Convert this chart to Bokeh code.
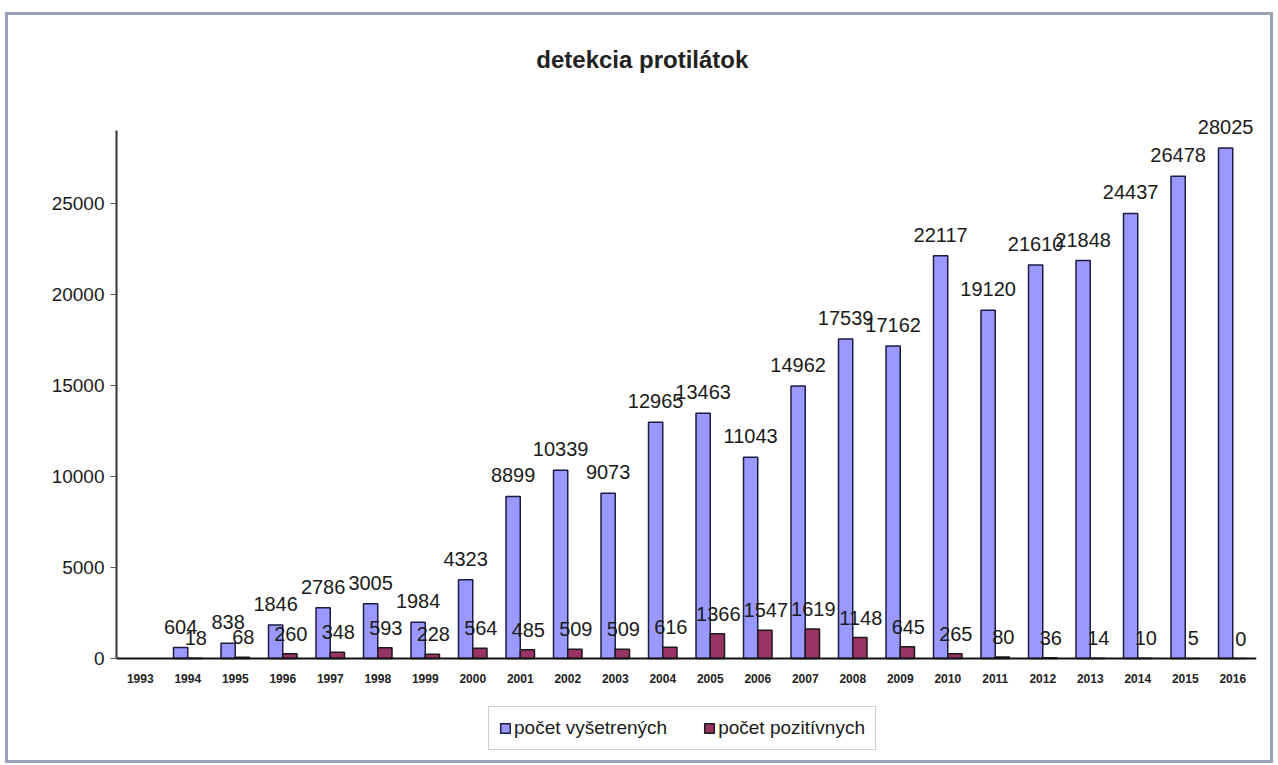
from bokeh.plotting import figure
from bokeh.models import (ColumnDataSource, Legend, LegendItem, Range1d, FactorRange,
                          LabelSet, Label, FixedTicker)
from bokeh.transform import dodge
from bokeh.embed import file_html
from bokeh.resources import INLINE
from bokeh.core.properties import value

# ---- data ----
all_years = [str(y) for y in range(1993, 2017)]
years = [str(y) for y in range(1994, 2017)]
examined = [604, 838, 1846, 2786, 3005, 1984, 4323, 8899, 10339, 9073, 12965, 13463,
            11043, 14962, 17539, 17162, 22117, 19120, 21610, 21848, 24437, 26478, 28025]
positive = [18, 68, 260, 348, 593, 228, 564, 485, 509, 509, 616, 1366,
            1547, 1619, 1148, 645, 265, 80, 36, 14, 10, 5, 0]
y_ticks = [0, 5000, 10000, 15000, 20000, 25000]
title_text = "detekcia protilátok"
series_names = ["počet vyšetrených", "počet pozitívnych"]

FONT = "Liberation Sans"

src = ColumnDataSource(dict(
    year=years,
    examined=examined,
    positive=positive,
    examined_lbl=[str(v) for v in examined],
    positive_lbl=[str(v) for v in positive],
))

# the frame spans the full height; the y axis line is bounded to 0..29000
p = figure(
    x_range=FactorRange(*all_years, range_padding=0),
    y_range=Range1d(-5600, 35304),
    width=1262, height=745,
    output_backend="svg", toolbar_location=None,
    min_border_left=108, min_border_right=14,
    min_border_top=0, min_border_bottom=0,
    title=None,
)
p.styles = {"outline": "3px solid #95a2b6",
            "margin-top": "15px", "margin-left": "8px"}

p.outline_line_color = None
p.xgrid.grid_line_color = None
p.ygrid.grid_line_color = None

r1 = p.vbar(x=dodge("year", -0.15, range=p.x_range), top="examined", width=0.3,
            source=src, fill_color="#9999ff", line_color="#1c1c40", line_width=1.5)
r2 = p.vbar(x=dodge("year", 0.15, range=p.x_range), top="positive", width=0.3,
            source=src, fill_color="#993366", line_color="#1a1a1a", line_width=1.5)

lbl1 = LabelSet(x=dodge("year", -0.15, range=p.x_range), y="examined", text="examined_lbl",
                source=src, text_align="center", text_baseline="alphabetic", y_offset=14,
                text_font=value(FONT), text_font_size=value("20px"), text_color="#1a1a1a")
lbl2 = LabelSet(x=dodge("year", 0.17, range=p.x_range), y="positive", text="positive_lbl",
                source=src, text_align="center", text_baseline="alphabetic", y_offset=13,
                text_font=value(FONT), text_font_size=value("20px"), text_color="#1a1a1a")
p.add_layout(lbl1)
p.add_layout(lbl2)

# chart title
p.add_layout(Label(x=11.07, y=32890, text=title_text, text_align="center",
                   text_baseline="middle", text_font=FONT, text_font_size="24px",
                   text_font_style="bold", text_color="#222222"))

# axes
p.yaxis.ticker = FixedTicker(ticks=y_ticks)
p.yaxis.bounds = (0, 29000)
p.yaxis.major_label_text_font = FONT
p.yaxis.major_label_text_font_size = "19px"
p.yaxis.major_label_text_color = "#1a1a1a"
p.yaxis.major_tick_in = 0
p.yaxis.major_tick_out = 6
p.yaxis.minor_tick_line_color = None
p.yaxis.major_tick_line_color = "#555555"
p.yaxis.axis_line_color = "#333333"
p.yaxis.axis_line_width = 2
p.yaxis.major_label_standoff = 6

p.xaxis.fixed_location = 0
p.xaxis.major_label_text_font = FONT
p.xaxis.major_label_text_font_size = "12px"
p.xaxis.major_label_text_font_style = "bold"
p.xaxis.major_label_text_color = "#222222"
p.xaxis.major_tick_line_color = None
p.xaxis.axis_line_color = "#111111"
p.xaxis.axis_line_width = 2
p.xaxis.major_label_standoff = 9

legend = Legend(items=[LegendItem(label=series_names[0], renderers=[r1]),
                       LegendItem(label=series_names[1], renderers=[r2])],
                orientation="horizontal", location=(372, 10),
                label_text_font=FONT, label_text_font_size="19px", label_text_color="#1a1a1a",
                glyph_width=12, glyph_height=12, label_standoff=3, spacing=36,
                padding=10, margin=0,
                border_line_color="#999999", border_line_width=1.5,
                background_fill_color="white", background_fill_alpha=1)
p.add_layout(legend, "center")

open("out.html", "w").write(file_html(p, INLINE))
